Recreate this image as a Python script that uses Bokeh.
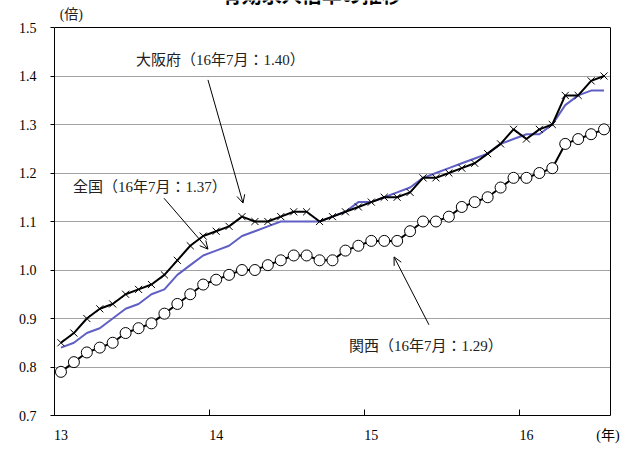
from bokeh.plotting import figure
from bokeh.models import LinearAxis, FixedTicker, Label, Arrow, OpenHead, NumeralTickFormatter, Span
from bokeh.embed import file_html
from bokeh.resources import INLINE

# ---------------- data ----------------
title_text = "有効求人倍率の推移"
unit_y = "(倍)"
unit_x = "(年)"
year_labels = ["13", "14", "15", "16"]
months_per_year = 12
y_ticks = [0.7, 0.8, 0.9, 1.0, 1.1, 1.2, 1.3, 1.4, 1.5]

# monthly values, 2013-01 .. 2016-07
osaka = [0.85, 0.87, 0.90, 0.92, 0.93, 0.95, 0.96, 0.97, 0.99, 1.02, 1.05, 1.07,
         1.08, 1.09, 1.11, 1.10, 1.10, 1.11, 1.12, 1.12, 1.10, 1.11, 1.12, 1.13,
         1.14, 1.15, 1.15, 1.16, 1.19, 1.19, 1.20, 1.21, 1.22, 1.24, 1.26, 1.29,
         1.27, 1.29, 1.30, 1.36, 1.36, 1.39, 1.40]
zenkoku = [0.84, 0.85, 0.87, 0.88, 0.90, 0.92, 0.93, 0.95, 0.96, 0.99, 1.01, 1.03,
           1.04, 1.05, 1.07, 1.08, 1.09, 1.10, 1.10, 1.10, 1.10, 1.11, 1.12, 1.14,
           1.14, 1.15, 1.16, 1.17, 1.19, 1.20, 1.21, 1.22, 1.23, 1.24, 1.26, 1.27,
           1.28, 1.28, 1.30, 1.34, 1.36, 1.37, 1.37]
kansai = [0.79, 0.81, 0.83, 0.84, 0.85, 0.87, 0.88, 0.89, 0.91, 0.93, 0.95, 0.97,
          0.98, 0.99, 1.00, 1.00, 1.01, 1.02, 1.03, 1.03, 1.02, 1.02, 1.04, 1.05,
          1.06, 1.06, 1.06, 1.08, 1.10, 1.10, 1.11, 1.13, 1.14, 1.15, 1.17, 1.19,
          1.19, 1.20, 1.21, 1.26, 1.27, 1.28, 1.29]

label_osaka = "大阪府（16年7月：1.40）"
label_zenkoku = "全国（16年7月：1.37）"
label_kansai = "関西（16年7月：1.29）"

# ---------------- chart ----------------
n = len(osaka)
xs = [i + 0.5 for i in range(n)]          # category centres
LATIN = "Liberation Serif"
MIX = "'Liberation Serif', 'Noto Sans CJK JP'"
Y_TOP = y_ticks[-1]
Y_HEADROOM = 0.0557                        # room above the plot box for title / unit

p = figure(width=626, height=451, x_range=(0, n), y_range=(y_ticks[0], Y_TOP + Y_HEADROOM),
           output_backend="svg", toolbar_location=None,
           min_border_left=54, min_border_right=16, min_border_top=0, min_border_bottom=36)
p.background_fill_color = "white"
p.border_fill_color = "white"
p.outline_line_color = None

# left y axis
ya = p.yaxis[0]
ya.bounds = (y_ticks[0], Y_TOP)
ya.ticker = FixedTicker(ticks=y_ticks)
ya.formatter = NumeralTickFormatter(format="0.0")
ya.major_label_text_font = LATIN
ya.major_label_text_font_size = "14px"
ya.major_label_text_color = "black"
ya.major_tick_in = 0
ya.major_tick_out = 4
ya.minor_tick_line_color = None
ya.major_label_standoff = 14
ya.axis_line_color = "black"

# right border of the plot box
yr = LinearAxis(bounds=(y_ticks[0], Y_TOP), ticker=FixedTicker(ticks=y_ticks),
                major_label_overrides={t: "" for t in y_ticks})
yr.major_tick_in = 0
yr.major_tick_out = 0
yr.minor_tick_line_color = None
yr.major_label_standoff = 0
yr.axis_line_color = "black"
p.add_layout(yr, "right")

# top border of the plot box
p.add_layout(Span(location=Y_TOP, dimension="width", line_color="black", line_width=1))

# x axis: tick marks at year boundaries
bounds = [k * months_per_year for k in range(len(year_labels))]
xa = p.xaxis[0]
xa.ticker = FixedTicker(ticks=bounds)
xa.major_label_overrides = {b: "" for b in bounds}
xa.major_tick_in = 6
xa.major_tick_out = 0
xa.minor_tick_line_color = None
xa.major_label_standoff = 0
xa.axis_line_color = "black"

# x axis: year labels at January centre, plus the unit at the right end
centres = [b + 0.5 for b in bounds]
unit_pos = n - 0.2
lab_ticks = centres + [unit_pos]
overrides = {c: t for c, t in zip(centres, year_labels)}
overrides[unit_pos] = unit_x
xl = LinearAxis(ticker=FixedTicker(ticks=lab_ticks), major_label_overrides=overrides)
xl.axis_line_color = None
xl.major_tick_line_color = None
xl.minor_tick_line_color = None
xl.major_tick_in = 0
xl.major_tick_out = 0
xl.major_label_standoff = 12
xl.major_label_text_font = MIX
xl.major_label_text_font_size = "14px"
xl.major_label_text_color = "black"
p.add_layout(xl, "below")

# grid
p.xgrid.visible = False
p.ygrid.ticker = FixedTicker(ticks=y_ticks[1:-1])
p.ygrid.grid_line_color = "#444444"
p.ygrid.grid_line_dash = "1 1"
p.ygrid.grid_line_width = 1

# series
p.line(xs, zenkoku, line_color="#5f5fc4", line_width=2)
p.line(xs, osaka, line_color="black", line_width=2)
p.scatter(xs, osaka, marker="x", size=10, line_color="black", line_width=1)
p.line(xs, kansai, line_color="black", line_width=2)
p.scatter(xs, kansai, marker="circle", size=11, fill_color="white",
          line_color="black", line_width=1)

# ---------------- annotations ----------------
p.add_layout(Label(x=19.9, y=1.539, text=title_text, text_font="'Noto Sans CJK JP'",
                   text_font_size="20px", text_font_style="bold", text_align="center",
                   text_baseline="bottom", text_color="black"))
p.add_layout(Label(x=1.3, y=1.527, text=unit_y, text_font=MIX, text_font_size="14px",
                   text_align="center", text_baseline="middle", text_color="#222222"))

p.add_layout(Label(x=6.3, y=1.433, text=label_osaka, text_font=MIX, text_font_size="15px",
                   text_align="left", text_baseline="middle", text_color="#222222"))
p.add_layout(Label(x=1.43, y=1.171, text=label_zenkoku, text_font=MIX, text_font_size="15px",
                   text_align="left", text_baseline="middle", text_color="#222222"))
p.add_layout(Label(x=22.78, y=0.843, text=label_kansai, text_font=MIX, text_font_size="15px",
                   text_align="left", text_baseline="middle", text_color="#222222"))

def arrow(x0, y0, x1, y1):
    p.add_layout(Arrow(end=OpenHead(size=8, line_width=1, line_color="black"),
                       x_start=x0, y_start=y0, x_end=x1, y_end=y1,
                       line_color="black", line_width=1))

arrow(11.87, 1.392, 14.58, 1.138)
arrow(8.47, 1.148, 11.87, 1.043)
arrow(28.96, 0.887, 26.26, 1.027)

open("out.html", "w").write(file_html(p, INLINE))
